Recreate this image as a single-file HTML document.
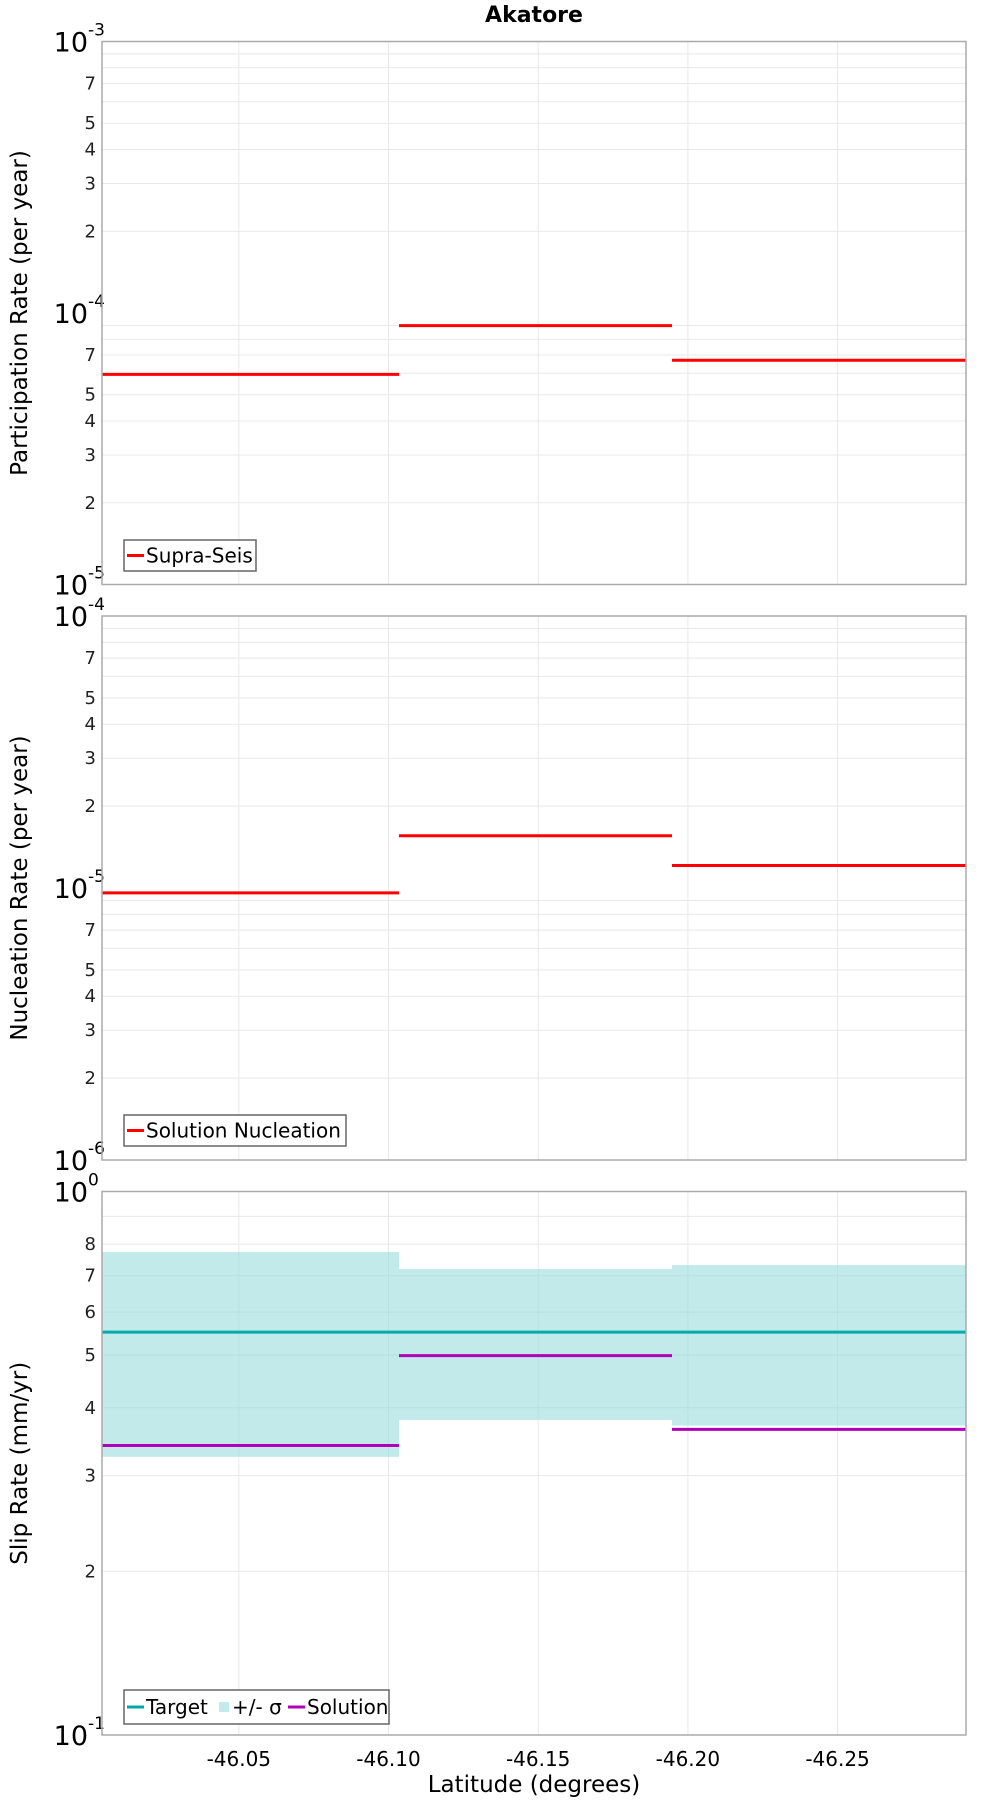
<!DOCTYPE html>
<html><head><meta charset="utf-8"><style>
body{margin:0;background:#fff}
svg{display:block;font-family:"DejaVu Sans","Liberation Sans",sans-serif}
</style></head><body>
<svg id="chart" width="1000" height="1800" viewBox="0 0 1000 1800" xmlns="http://www.w3.org/2000/svg">
<text x="534" y="22" text-anchor="middle" font-weight="bold" font-size="22">Akatore</text>
<text x="534" y="1792" text-anchor="middle" font-size="23">Latitude (degrees)</text>
<g id="plots"></g>
</svg>
<script>
// x data (latitude)
const xTicks = [-46.05, -46.10, -46.15, -46.20, -46.25];
const xTickLabels = ["-46.05", "-46.10", "-46.15", "-46.20", "-46.25"];
const xDomain = [-46.0043, -46.2929];
const binEdges = [-46.0043, -46.1035, -46.1947, -46.2929];
// panel 1
const partRates = [5.94e-5, 8.98e-5, 6.70e-5];
// panel 2
const nuclRates = [9.6e-6, 1.556e-5, 1.21e-5];
// panel 3
const slipTarget = [0.551, 0.551, 0.551];
const slipUpper = [0.774, 0.720, 0.732];
const slipLower = [0.325, 0.380, 0.371];
const slipSolution = [0.341, 0.499, 0.365];

const NS = "http://www.w3.org/2000/svg";
const root = document.getElementById('plots');
const L = 102, R = 966;
function xs(v){ return L + (v - xDomain[0])/(xDomain[1]-xDomain[0])*(R-L); }
function mk(tag, attrs, parent){ const e=document.createElementNS(NS,tag); for(const k in attrs) e.setAttribute(k,attrs[k]); (parent||root).appendChild(e); return e; }

function panel(name, top, bottom, minExp, maxExp, labeled, yTitle){
  const g = mk('g',{});
  
  
  const ys = v => bottom - (Math.log10(v)-minExp)/(maxExp-minExp)*(bottom-top);
  for(let e=minExp;e<maxExp;e++){
    for(let m=2;m<=9;m++){
      const y=ys(m*Math.pow(10,e));
      const ln=mk('line',{x1:L,x2:R,y1:y,y2:y,stroke:'#e8e8e8','stroke-width':1},g);
      
      
      if(labeled.includes(m)){
        const t=mk('text',{x:96,y:y+6,'text-anchor':'end','font-size':18,fill:'#222'},g);
        
        
        t.textContent=m;
      }
    }
  }
  for(let e=minExp;e<=maxExp;e++){
    const y=ys(Math.pow(10,e));
    const t=mk('text',{x:88,y:y+10,'text-anchor':'end','font-size':27},g);
    
    
    t.textContent='10';
    const s=mk('text',{x:88,y:y-6,'text-anchor':'start','font-size':17},g);
    
    
    s.textContent=String(e);
  }
  xTicks.forEach((v,i)=>{
    const x=xs(v);
    const ln=mk('line',{x1:x,x2:x,y1:top,y2:bottom,stroke:'#e8e8e8','stroke-width':1},g);
    
    
  });
  const yt=mk('text',{x:0,y:0,'text-anchor':'middle','font-size':23,transform:`translate(27,${(top+bottom)/2}) rotate(-90)`},g);
  
  
  yt.textContent=yTitle;
  return {g, ys};
}
function frame(g, top, bottom){
  const r=mk('rect',{x:L,y:top,width:R-L,height:bottom-top,fill:'none',stroke:'#aaa','stroke-width':1.5},g);
  
  
}
function steps(g, ys, vals, color, name){
  vals.forEach((v,i)=>{
    const y=ys(v);
    const ln=mk('line',{x1:xs(binEdges[i]),x2:xs(binEdges[i+1]),y1:y,y2:y,stroke:color,'stroke-width':3},g);
    
    
  });
}
function legend(g, x, y, w, h, items){
  const lg=mk('g',{},g);
  
  
  mk('rect',{x:x,y:y,width:w,height:h,fill:'#fff',stroke:'#666','stroke-width':1.5},lg);
  let cx=x+3;
  items.forEach(it=>{
    if(it.box){ mk('rect',{x:cx+1,y:y+h/2-5,width:10,height:10,fill:it.color},lg); cx+=14; }
    else { mk('line',{x1:cx,x2:cx+17,y1:y+h/2,y2:y+h/2,stroke:it.color,'stroke-width':3},lg); cx+=19; }
    const t=mk('text',{x:cx,y:y+h/2+7,'font-size':20},lg);
    
    
    t.textContent=it.label;
    cx+=it.w;
  });
}

let p=panel('participation-panel',41.5,584.5,-5,-3,[2,3,4,5,7],'Participation Rate (per year)');
steps(p.g,p.ys,partRates,'#ff0000','supra-seis');
frame(p.g,41.5,584.5);
legend(p.g,124,540,132,31,[{color:'#ff0000',label:'Supra-Seis',w:110}]);

p=panel('nucleation-panel',616,1160,-6,-4,[2,3,4,5,7],'Nucleation Rate (per year)');
steps(p.g,p.ys,nuclRates,'#ff0000','solution-nucleation');
frame(p.g,616,1160);
legend(p.g,124,1115,222,31,[{color:'#ff0000',label:'Solution Nucleation',w:200}]);

p=panel('slip-rate-panel',1191.5,1735,-1,0,[2,3,4,5,6,7,8],'Slip Rate (mm/yr)');
slipUpper.forEach((u,i)=>{
  const y1=p.ys(u), y2=p.ys(slipLower[i]);
  const r=mk('rect',{x:xs(binEdges[i]),y:y1,width:xs(binEdges[i+1])-xs(binEdges[i]),height:y2-y1,fill:'#9adcdc','fill-opacity':0.6},p.g);
  
  
});
steps(p.g,p.ys,slipTarget,'#00aaaa','target');
steps(p.g,p.ys,slipSolution,'#b000b8','solution');
frame(p.g,1191.5,1735);
legend(p.g,124,1690,265,34,[{color:'#00aaaa',label:'Target',w:72},{color:'#c2ecec',label:'+/- σ',box:true,w:56},{color:'#b000b8',label:'Solution',w:80}]);

xTicks.forEach((v,i)=>{
  const t=mk('text',{x:xs(v),y:1766,'text-anchor':'middle','font-size':20});
  
  
  t.textContent=xTickLabels[i];
});
</script>
</body></html>
